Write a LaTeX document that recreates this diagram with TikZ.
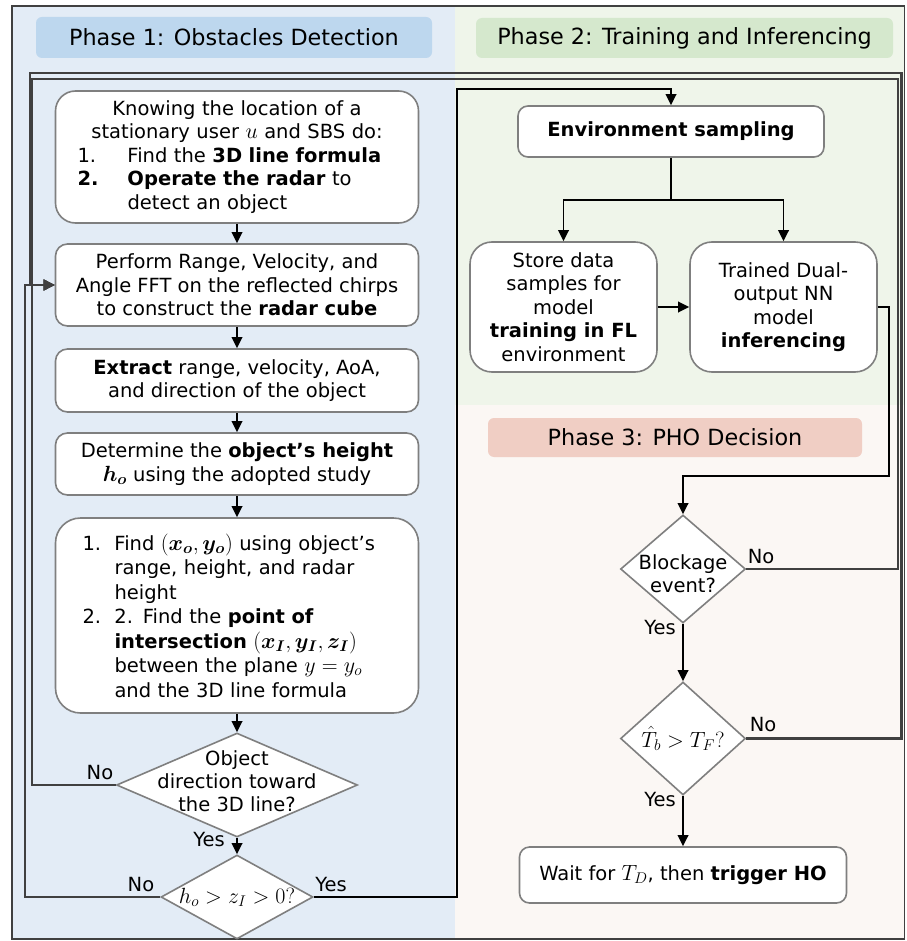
\documentclass[tikz,border=0pt]{standalone}
\usepackage{fix-cm}
\usepackage{amsmath,bm}
\usepackage{fontspec}
\setmainfont{DejaVu Sans}
\usetikzlibrary{arrows.meta,shapes.geometric,calc}
\DeclareMathSizes{19.5}{22}{15.5}{12}

\definecolor{panelA}{HTML}{E3ECF6}
\definecolor{panelB}{HTML}{EFF5EA}
\definecolor{panelC}{HTML}{FBF7F4}
\definecolor{titleA}{HTML}{BDD7EE}
\definecolor{titleB}{HTML}{D5E8CD}
\definecolor{titleC}{HTML}{F0CEC4}
\definecolor{frameg}{HTML}{404040}
\definecolor{boxg}{HTML}{7F7F7F}

\begin{document}
\begin{tikzpicture}[x=1pt,y=-1pt,
  phase/.style={rectangle, rounded corners=6pt, inner sep=0pt,
    font=\fontsize{22.3}{26}\selectfont},
  stepbox/.style={rectangle, draw=boxg, fill=white, line width=1.6pt,
    inner sep=0pt, align=center, font=\fontsize{19.5}{23.5}\selectfont},
  dia/.style={diamond, draw=boxg, fill=white, line width=1.6pt, inner sep=0pt},
  dtext/.style={align=center, inner sep=0pt, font=\fontsize{19.5}{23}\selectfont},
  lbl/.style={inner sep=0pt, font=\fontsize{19.5}{23}\selectfont},
  tip/.style={-{Triangle[length=11pt,width=10.5pt]}},
  conn/.style={draw=black, line width=1.9pt, tip},
  plain/.style={draw=black, line width=1.9pt},
  back/.style={draw=frameg, line width=2.2pt, tip}]

\useasboundingbox (0,0) rectangle (906,941);
\fill[white] (0,0) rectangle (906,941);

% phase backgrounds and outer frame
\fill[panelA] (12,6) rectangle (455,939);
\fill[panelB] (455,6) rectangle (904.5,405);
\fill[panelC] (455,405) rectangle (904.5,939);
\draw[frameg, line width=1.8pt] (12,6) rectangle (904.5,939);

% phase titles
\node[phase, fill=titleA, minimum width=396pt, minimum height=41pt] (t1) at (234,37.5) {Phase 1: Obstacles Detection};
\node[phase, fill=titleB, minimum width=417pt, minimum height=40pt] (t2) at (684.5,38) {Phase 2: Training and Inferencing};
\node[phase, fill=titleC, minimum width=374pt, minimum height=39pt] (t3) at (675,437.5) {Phase 3: PHO Decision};

% phase 1 steps
\node[stepbox, rounded corners=20pt, minimum width=363pt, minimum height=132pt, text width=363pt] (A) at (237,157)
 {Knowing the location of a\\
  stationary user $u$ and SBS do:\\
  \makebox[363pt][l]{\hspace*{22pt}\makebox[50pt][l]{1.}Find the \textbf{3D line formula}}\\
  \makebox[363pt][l]{\hspace*{22pt}\makebox[50pt][l]{\textbf{2.}}\textbf{Operate the radar} to}\\
  \makebox[363pt][l]{\hspace*{72pt}detect an object}};

\node[stepbox, rounded corners=12pt, minimum width=363pt, minimum height=82pt] (B) at (237,285)
 {Perform Range, Velocity, and\\ Angle FFT on the reflected chirps\\ to construct the \textbf{radar cube}};

\node[stepbox, rounded corners=12pt, minimum width=363pt, minimum height=63pt] (C) at (237,380.5)
 {\textbf{Extract} range, velocity, AoA,\\ and direction of the object};

\node[stepbox, rounded corners=12pt, minimum width=363pt, minimum height=62pt] (D) at (237,464)
 {Determine the \textbf{object’s height}\\ $\boldsymbol{h_o}$ using the adopted study};

\node[stepbox, rounded corners=25pt, minimum width=363pt, minimum height=195pt, text width=363pt, align=left,
      font=\fontsize{19.5}{24.5}\selectfont] (E) at (237,615.5)
 {\hspace*{27pt}\makebox[32pt][l]{1.}Find $(\boldsymbol{x_o},\boldsymbol{y_o})$ using object’s\\
  \hspace*{59pt}range, height, and radar\\
  \hspace*{59pt}height\\
  \hspace*{27pt}\makebox[32pt][l]{2.}2. Find the \textbf{point of}\\
  \hspace*{59pt}\textbf{intersection} $(\boldsymbol{x_I},\boldsymbol{y_I},\boldsymbol{z_I})$\\
  \hspace*{59pt}between the plane $y=y_o$\\
  \hspace*{59pt}and the 3D line formula};

\node[dia, minimum width=241pt, minimum height=104pt] (F) at (237,785) {};
\node[dtext] (Ft) at ($(F.center)+(0,-4)$) {Object\\ direction toward\\ the 3D line?};

\node[dia, minimum width=152pt, minimum height=84pt] (G) at (237,897) {};
\node[dtext] (Gt) at (G.center) {$h_o > z_I > 0?$};

% phase 2 steps
\node[stepbox, rounded corners=10pt, minimum width=306pt, minimum height=51pt] (Env) at (671,131.5)
 {\textbf{Environment sampling}};
\node[stepbox, rounded corners=22pt, minimum width=187pt, minimum height=130pt] (Store) at (563.5,307)
 {Store data\\ samples for\\ model\\ \textbf{training in FL}\\ environment};
\node[stepbox, rounded corners=22pt, minimum width=187pt, minimum height=130pt] (Trained) at (783.5,307)
 {Trained Dual-\\ output NN\\ model\\ \textbf{inferencing}};

% phase 3 steps
\node[dia, minimum width=125pt, minimum height=108pt] (Bl) at (683,569) {};
\node[dtext] (Blt) at ($(Bl.center)+(0,5)$) {Blockage\\ event?};

\node[dia, minimum width=125pt, minimum height=113pt] (T) at (683,738.5) {};
\node[dtext] (Tt) at (T.center) {$\hat{T}_b > T_F?$};

\node[stepbox, rounded corners=10pt, minimum width=327pt, minimum height=56pt] (W) at (683,875)
 {Wait for $T_D$, then \textbf{trigger HO}};

% branch labels
\node[lbl] (FNo)  at (100,773) {No};
\node[lbl] (FYes) at (209,840) {Yes};
\node[lbl] (GNo)  at (141,885) {No};
\node[lbl] (GYes) at (331,885) {Yes};
\node[lbl] (BlNo)  at (761,557) {No};
\node[lbl] (BlYes) at (660,628) {Yes};
\node[lbl] (TNo)  at (763,725) {No};
\node[lbl] (TYes) at (660,800) {Yes};

% corner points of the feedback loops
\coordinate (innerNE) at (898,79);
\coordinate (outerNE) at (901.5,73);
\coordinate (split) at ($(Env.south)+(0,42)$);

% main flow of phase 1
\draw[conn] (A.south) -- (B.north);
\draw[conn] (B.south) -- (C.north);
\draw[conn] (C.south) -- (D.north);
\draw[conn] (D.south) -- (E.north);
\draw[conn] (E.south) -- (F.north);
\draw[conn] (F.south) -- (G.north);

% feedback loops into the radar cube step
\draw[back] (G.west) -| ([xshift=-30pt]B.west) -- (B.west);
\draw[back] (F.west) -| ([xshift=-23pt]B.west) -- (B.west);
\draw[back] (Bl.east) -| (innerNE) -| ([xshift=-23pt]B.west) -- (B.west);
\draw[back] (T.east) -| (outerNE) -| ([xshift=-25pt]B.west) -- (B.west);

% phase 1 to phase 2
\draw[conn] (G.east) -| (457,89) -| (Env.north);

% phase 2 flow
\draw[plain] (Env.south) -- (split);
\draw[conn] (split) -| (Store.north);
\draw[conn] (split) -| (Trained.north);
\draw[conn] (Store.east) -- (Trained.west);
\draw[conn] (Trained.east) -- ++(11,0) |- ($(Bl.north)+(0,-38)$) -- (Bl.north);

% phase 3 flow
\draw[conn] (Bl.south) -- (T.north);
\draw[conn] (T.south) -- (W.north);

\end{tikzpicture}
\end{document}
